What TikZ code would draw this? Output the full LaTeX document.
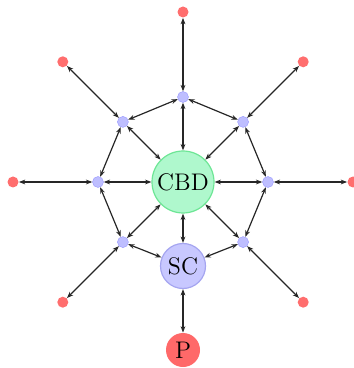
\documentclass[tikz,border=0pt]{standalone}
\usetikzlibrary{arrows.meta}
\definecolor{cbdfill}{RGB}{175,248,205}
\definecolor{cbddraw}{RGB}{110,230,150}
\definecolor{scfill}{RGB}{200,200,255}
\definecolor{scdraw}{RGB}{165,165,240}
\definecolor{pfill}{RGB}{255,105,105}
\definecolor{bluedot}{RGB}{190,190,255}
\definecolor{reddot}{RGB}{255,110,110}
\tikzset{
  bignode/.style={circle,inner sep=0pt,font=\large},
  cbdnode/.style={bignode,fill=cbdfill,draw=cbddraw,line width=0.6pt,minimum size=31pt},
  scnode/.style={bignode,fill=scfill,draw=scdraw,line width=0.6pt,minimum size=22.5pt},
  pnode/.style={bignode,fill=pfill,minimum size=17pt},
  bdot/.style={circle,inner sep=0pt,minimum size=5.5pt,fill=bluedot,draw=bluedot!80!blue,line width=0.2pt},
  rdot/.style={circle,inner sep=0pt,minimum size=5.5pt,fill=reddot},
  conn/.style={{Stealth[length=3.2pt,width=2.4pt]}-{Stealth[length=3.2pt,width=2.4pt]},line width=0.6pt,black!85},
}
\begin{document}
\begin{tikzpicture}[x=0.5pt,y=-0.5pt]
\useasboundingbox (0,0) rectangle (353,368);
% center
\node[cbdnode] (cbd) at (183,182) {CBD};
% octagon
\node[bdot] (b1) at (183,97) {};
\node[bdot] (b2) at (243.1,121.9) {};
\node[bdot] (b3) at (268,182) {};
\node[bdot] (b4) at (243.1,242.1) {};
\node[scnode] (sc) at (183,266) {SC};
\node[bdot] (b6) at (122.9,242.1) {};
\node[bdot] (b7) at (98,182) {};
\node[bdot] (b8) at (122.9,121.9) {};
% outer
\node[rdot] (r1) at (183,12) {};
\node[rdot] (r2) at (303.2,61.8) {};
\node[rdot] (r3) at (353,182) {};
\node[rdot] (r4) at (303.2,302.2) {};
\node[pnode] (p) at (183,350) {P};
\node[rdot] (r6) at (62.8,302.2) {};
\node[rdot] (r7) at (13,182) {};
\node[rdot] (r8) at (62.8,61.8) {};
% spokes
\foreach \n in {b1,b2,b3,b4,sc,b6,b7,b8}
  \draw[conn] (cbd) -- (\n);
% ring
\draw[conn] (b1) -- (b2);
\draw[conn] (b2) -- (b3);
\draw[conn] (b3) -- (b4);
\draw[conn] (b4) -- (sc);
\draw[conn] (sc) -- (b6);
\draw[conn] (b6) -- (b7);
\draw[conn] (b7) -- (b8);
\draw[conn] (b8) -- (b1);
% outward
\draw[conn] (b1) -- (r1);
\draw[conn] (b2) -- (r2);
\draw[conn] (b3) -- (r3);
\draw[conn] (b4) -- (r4);
\draw[conn] (sc) -- (p);
\draw[conn] (b6) -- (r6);
\draw[conn] (b7) -- (r7);
\draw[conn] (b8) -- (r8);
\end{tikzpicture}
\end{document}
